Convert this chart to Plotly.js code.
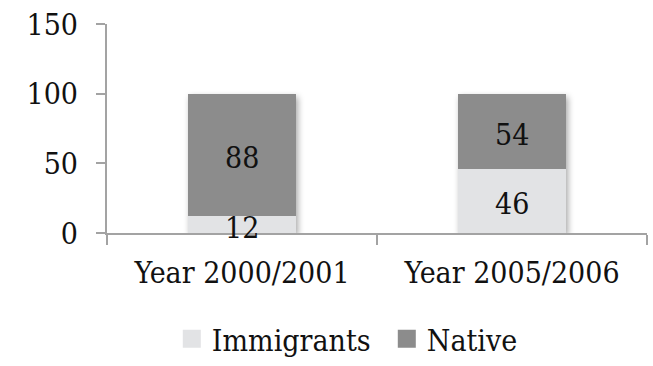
<!DOCTYPE html>
<html>
<head>
<meta charset="utf-8">
<script src="https://cdn.plot.ly/plotly-3.0.1.min.js"></script>
<style>
  html, body { margin: 0; padding: 0; background: #fff; }
  #chart { width: 653px; height: 366px; }
  /* soft drop shadow under the stacked bars */
  #chart .barlayer { filter: drop-shadow(2px 3px 3px rgba(0,0,0,0.35)); }
</style>
</head>
<body>
<div id="chart"></div>
<script>
// Share of pupils (%) by origin, two school years
const categories = ['Year 2000/2001', 'Year 2005/2006'];
const immigrants = [12, 46];
const native = [88, 54];
const seriesNames = ['Immigrants', 'Native'];

const FONT = 'DejaVu Serif Condensed, DejaVu Serif, serif';
const FS = 30;
const TXT = '#111';
const AXIS = '#a3a3a3';

const traces = [
  {
    type: 'bar', name: seriesNames[0], x: categories, y: immigrants,
    marker: { color: '#e2e3e5', line: { width: 0 } },
    hoverinfo: 'skip'
  },
  {
    type: 'bar', name: seriesNames[1], x: categories, y: native,
    marker: { color: '#8c8c8c', line: { width: 0 } },
    hoverinfo: 'skip'
  }
];

// value labels centred in each stacked segment
const annotations = [];
categories.forEach((c, i) => {
  annotations.push({ x: c, y: immigrants[i] / 2, text: String(immigrants[i]) });
  annotations.push({ x: c, y: immigrants[i] + native[i] / 2, text: String(native[i]) });
});
annotations.forEach(a => {
  Object.assign(a, {
    xref: 'x', yref: 'y', showarrow: false, yshift: -3,
    xanchor: 'center', yanchor: 'middle',
    font: { family: FONT, size: FS, color: TXT }
  });
});

const layout = {
  width: 653, height: 366,
  margin: { l: 107, r: 6, t: 24, b: 133, autoexpand: false },
  paper_bgcolor: '#fff', plot_bgcolor: '#fff',
  barmode: 'stack', bargap: 0.6,
  font: { family: FONT, size: FS, color: TXT },
  xaxis: {
    type: 'category',
    showline: true, linecolor: AXIS, linewidth: 2,
    ticks: 'outside', tickson: 'boundaries', ticklen: 10, tickcolor: AXIS, tickwidth: 2,
    showgrid: false, zeroline: false,
    tickfont: { family: FONT, size: FS, color: TXT },
    ticklabelstandoff: 12
  },
  yaxis: {
    range: [0, 150], tickvals: [0, 50, 100, 150],
    showline: true, linecolor: AXIS, linewidth: 2,
    ticks: 'outside', ticklen: 9, tickcolor: AXIS, tickwidth: 2,
    showgrid: false, zeroline: false,
    tickfont: { family: FONT, size: FS, color: TXT },
    ticklabelstandoff: 12
  },
  annotations: annotations,
  showlegend: true,
  legend: {
    orientation: 'h', x: 0.12, xanchor: 'left', y: -0.382, yanchor: 'top',
    font: { family: FONT, size: FS, color: TXT },
    itemwidth: 30, entrywidth: 170, traceorder: 'normal'
  }
};

Plotly.newPlot('chart', traces, layout, { staticPlot: true, displayModeBar: false })
  .then(gd => {
    // larger square legend swatches
    gd.querySelectorAll('.legend .legendpoints path').forEach(p => {
      p.setAttribute('d', 'M9,9H-9V-9H9Z');
    });
  });
</script>
</body>
</html>
